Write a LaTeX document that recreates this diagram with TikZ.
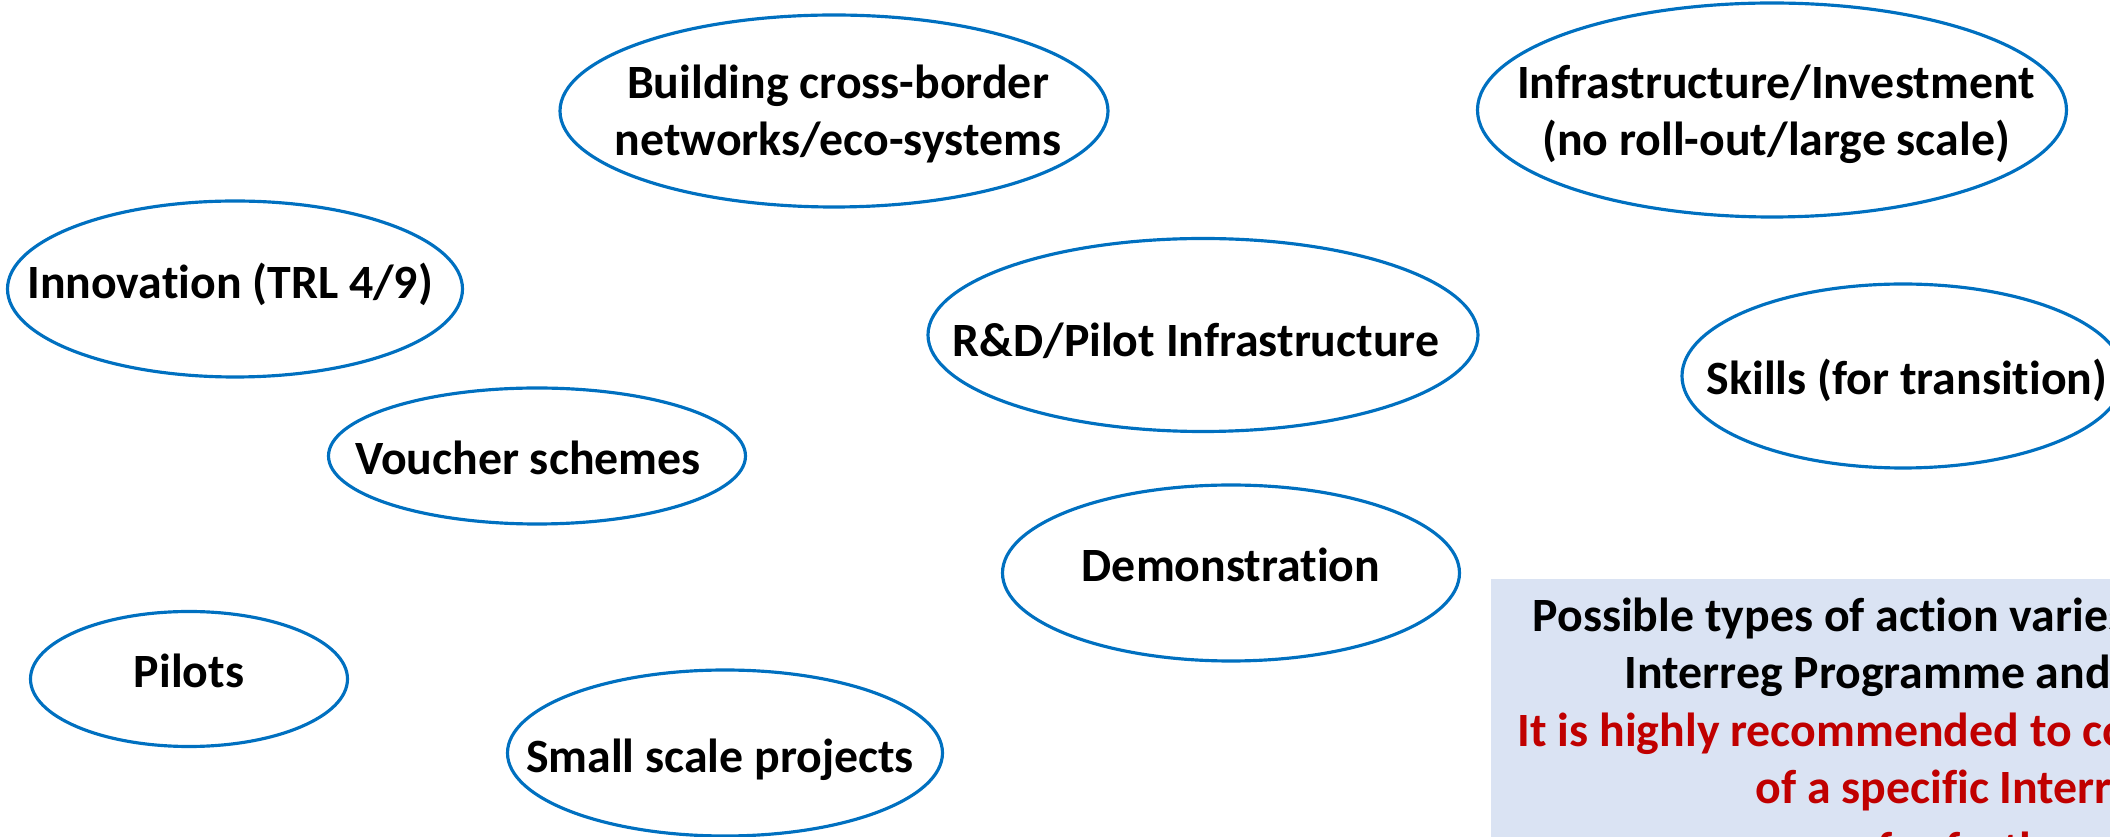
\documentclass[tikz,border=0pt]{standalone}
\usepackage{fontspec}
\setmainfont{Carlito}[Ligatures=NoCommon]
\usepackage{tikz}
\usetikzlibrary{shapes, positioning}
\definecolor{ovalblue}{HTML}{0070C0}
\definecolor{notered}{HTML}{C00000}
\definecolor{notefill}{HTML}{DAE3F3}
\tikzstyle{oval}=[draw=ovalblue,line width=0.9pt,ellipse,inner sep=0pt]
\tikzstyle{lbl}=[anchor=base,inner sep=0pt,align=center]
\tikzstyle{noteline}=[anchor=base west,inner sep=0pt]
\tikzstyle{every node}=[font=\fontsize{13.6}{16.5}\selectfont\bfseries]

\begin{document}
\begin{tikzpicture}[x=0.1mm,y=-0.1mm]
  \useasboundingbox (0,0) rectangle (2110,837);
  % ovals
  \node[oval, minimum width=54.8mm, minimum height=19.2mm] (build) at (834,111) {};
  \node[oval, minimum width=58.9mm, minimum height=21.4mm] (infra) at (1772,110) {};
  \node[oval, minimum width=45.5mm, minimum height=17.6mm] (innov) at (235,289) {};
  \node[oval, minimum width=55.0mm, minimum height=19.3mm] (rnd) at (1203,335) {};
  \node[oval, minimum width=44.2mm, minimum height=18.4mm] (skills) at (1903,376) {};
  \node[oval, minimum width=41.7mm, minimum height=13.6mm] (voucher) at (537,456) {};
  \node[oval, minimum width=45.7mm, minimum height=17.6mm] (demo) at (1231,573) {};
  \node[oval, minimum width=31.7mm, minimum height=13.5mm] (pilots) at (189,679) {};
  \node[oval, minimum width=43.5mm, minimum height=16.6mm] (small) at (725,753) {};
  % labels
  \node[lbl] (build-t) at (838,156) {Building cross-border\\networks/eco-systems};
  \node[lbl] (infra-t) at (1776,156) {Infrastructure/Investment\\(no roll-out/large scale)};
  \node[lbl] (innov-t) at (230,299) {Innovation (TRL 4/9)};
  \node[lbl] (rnd-t) at (1196,357) {R\&D/Pilot Infrastructure};
  \node[lbl] (skills-t) at (1907,395) {Skills (for transition)};
  \node[lbl] (voucher-t) at (528,475) {Voucher schemes};
  \node[lbl] (demo-t) at (1231,582) {Demonstration};
  \node[lbl] (pilots-t) at (189,688) {Pilots};
  \node[lbl] (small-t) at (720,773) {Small scale projects};
  % note box
  \node[fill=notefill, anchor=north west, minimum width=70mm, minimum height=30mm] (note) at (1490,578) {};
  \node[noteline] (note1) at (1532,632) {Possible types of action varies};
  \node[noteline] (note2) at (1624,689) {Interreg Programme and};
  \node[noteline, text=notered] (note3) at (1517,747) {It is highly recommended to co};
  \node[noteline, text=notered] (note4) at (1755,804) {of a specific Interr};
  \node[noteline, text=notered] (note5) at (1877,866) {for further};
\end{tikzpicture}
\end{document}
